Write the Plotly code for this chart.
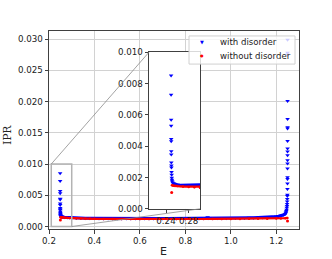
import plotly.graph_objects as go

# ---------------- data ----------------
# "with disorder": localized states at the lower band edge (E ~ 0.25)
blue_left_E = [0.2490, 0.2490, 0.2491, 0.2491, 0.2492, 0.2492, 0.2493, 0.2493,
               0.2494, 0.2495, 0.2496, 0.2498, 0.2500, 0.2502, 0.2505, 0.2510, 0.2515]
blue_left_ipr = [0.00851, 0.00728, 0.00569, 0.00531, 0.00446, 0.00431, 0.00367, 0.00346,
                 0.00295, 0.00276, 0.00263, 0.00235, 0.00218, 0.00199, 0.00186, 0.00176, 0.00168]

# "with disorder": localized states at the upper band edge (E ~ 1.25)
blue_right_E = [1.2497, 1.2497, 1.2497, 1.2497, 1.2497, 1.2497, 1.2496, 1.2496,
                1.2496, 1.2496, 1.2495, 1.2495, 1.2495, 1.2494, 1.2494, 1.2493,
                1.2492, 1.2490, 1.2488, 1.2486, 1.2483, 1.2480, 1.2476, 1.2470,
                1.2462, 1.2452, 1.2440, 1.2425]
blue_right_ipr = [0.0299, 0.0278, 0.0275, 0.0201, 0.0172, 0.0159, 0.0157, 0.0137,
                  0.0125, 0.0120, 0.0114, 0.0106, 0.0101, 0.0093, 0.0079, 0.0076,
                  0.0069, 0.0060, 0.0051, 0.0049, 0.0044, 0.0040, 0.0036, 0.0033,
                  0.0030, 0.0027, 0.0025, 0.0023]

# "with disorder": extended states through the band
blue_band_E = [0.253, 0.256, 0.260, 0.265, 0.270, 0.280, 0.290, 0.300, 0.320, 0.340,
               0.360, 0.380, 0.400, 0.420, 0.440, 0.460, 0.480, 0.500, 0.520, 0.540,
               0.560, 0.580, 0.600, 0.620, 0.640, 0.660, 0.680, 0.700, 0.720, 0.740,
               0.760, 0.780, 0.800, 0.820, 0.840, 0.860, 0.880, 0.900, 0.920, 0.940,
               0.960, 0.980, 1.000, 1.020, 1.040, 1.060, 1.080, 1.100, 1.120, 1.140,
               1.160, 1.180, 1.200, 1.210, 1.220, 1.230, 1.238, 1.242]
blue_band_ipr = [0.00162, 0.00157, 0.00154, 0.00151, 0.00149, 0.00146, 0.00143, 0.00140,
                 0.00137, 0.00135, 0.00133, 0.00132, 0.00131, 0.00130, 0.00129, 0.00129,
                 0.00128, 0.00128, 0.00127, 0.00127, 0.00127, 0.00127, 0.00127, 0.00127,
                 0.00127, 0.00127, 0.00127, 0.00127, 0.00128, 0.00128, 0.00128, 0.00129,
                 0.00129, 0.00129, 0.00130, 0.00130, 0.00131, 0.00131, 0.00132, 0.00132,
                 0.00133, 0.00134, 0.00135, 0.00136, 0.00137, 0.00138, 0.00140, 0.00141,
                 0.00143, 0.00146, 0.00149, 0.00153, 0.00159, 0.00164, 0.00171, 0.00183,
                 0.00198, 0.00212]
# isolated state inside the band
blue_mid_E = [0.898]
blue_mid_ipr = [0.00150]

# "without disorder"
red_band_E = [0.2505, 0.253, 0.256, 0.260, 0.270, 0.280, 0.290, 0.300, 0.320, 0.340,
              0.360, 0.380, 0.400, 0.440, 0.480, 0.520, 0.560, 0.600, 0.640, 0.680,
              0.720, 0.760, 0.800, 0.840, 0.880, 0.920, 0.960, 1.000, 1.040, 1.080,
              1.120, 1.160, 1.200, 1.220, 1.240, 1.249]
red_band_ipr = [0.00150, 0.00148, 0.00146, 0.00145, 0.00142, 0.00139, 0.00137, 0.00135,
                0.00131, 0.00128, 0.00126, 0.00124, 0.00123, 0.00121, 0.00120, 0.00120,
                0.00120, 0.00120, 0.00120, 0.00120, 0.00120, 0.00120, 0.00120, 0.00120,
                0.00120, 0.00121, 0.00121, 0.00121, 0.00122, 0.00123, 0.00124, 0.00126,
                0.00128, 0.00130, 0.00133, 0.00138]
red_edge_E = [0.2500, 1.2495]
red_edge_ipr = [0.00104, 0.00090]

series_names = ["with disorder", "without disorder"]

# axes limits / ticks
main_x_range = [0.2, 1.3]
main_y_range = [-0.0004, 0.0313]
zoom_x_range = [0.21, 0.30]
zoom_y_range = [0.0, 0.010]
main_x_ticks = [0.2, 0.4, 0.6, 0.8, 1.0, 1.2]
main_y_ticks = [0.0, 0.005, 0.010, 0.015, 0.020, 0.025, 0.030]
zoom_x_ticks = [0.24, 0.28]
zoom_y_ticks = [0.0, 0.002, 0.004, 0.006, 0.008, 0.010]

# ---------------- figure ----------------
BLUE = "#0000ff"
RED = "#ff0000"
FONT = "DejaVu Sans"
INSET_DOM_X = [0.400, 0.604]
INSET_DOM_Y = [0.102, 0.893]

fig = go.Figure()

for xa, ya in (("x", "y"), ("x2", "y2")):
    fig.add_trace(go.Scatter(x=blue_band_E, y=blue_band_ipr, mode="lines+markers",
                             line=dict(color=BLUE, width=3),
                             marker=dict(symbol="triangle-down", size=4, color=BLUE),
                             xaxis=xa, yaxis=ya, name=series_names[0], hoverinfo="skip"))
    fig.add_trace(go.Scatter(x=blue_left_E, y=blue_left_ipr, mode="markers",
                             marker=dict(symbol="triangle-down", size=4, color=BLUE),
                             xaxis=xa, yaxis=ya, name=series_names[0]))
    fig.add_trace(go.Scatter(x=blue_right_E, y=blue_right_ipr, mode="markers",
                             marker=dict(symbol="triangle-down", size=4, color=BLUE),
                             xaxis=xa, yaxis=ya, name=series_names[0]))
    fig.add_trace(go.Scatter(x=blue_mid_E, y=blue_mid_ipr, mode="markers",
                             marker=dict(symbol="triangle-down", size=4, color=BLUE),
                             xaxis=xa, yaxis=ya, name=series_names[0]))
    fig.add_trace(go.Scatter(x=red_band_E, y=red_band_ipr, mode="lines+markers",
                             line=dict(color=RED, width=2.2),
                             marker=dict(symbol="circle", size=2.5, color=RED),
                             xaxis=xa, yaxis=ya, name=series_names[1], hoverinfo="skip"))
    fig.add_trace(go.Scatter(x=red_edge_E, y=red_edge_ipr, mode="markers",
                             marker=dict(symbol="circle", size=3, color=RED),
                             xaxis=xa, yaxis=ya, name=series_names[1]))


def to_paper_x(v):
    return (v - main_x_range[0]) / (main_x_range[1] - main_x_range[0])


def to_paper_y(v):
    return (v - main_y_range[0]) / (main_y_range[1] - main_y_range[0])


# legend box placement (paper coordinates of the main plotting area)
LEG_X0, LEG_X1 = 0.560, 0.984
LEG_Y0, LEG_Y1 = 0.833, 0.975
LEG_ROWS = [0.942, 0.876]
LEG_MARK_X = 0.612
LEG_TEXT_X = 0.676

shapes = [
    # opaque background of the inset (drawn inside the inset subplot layer)
    dict(type="rect", xref="x2", yref="y2", x0=zoom_x_range[0], x1=zoom_x_range[1],
         y0=zoom_y_range[0], y1=zoom_y_range[1], fillcolor="white",
         line=dict(width=0), layer="below"),
    # zoom rectangle on main axes
    dict(type="rect", xref="x", yref="y", x0=zoom_x_range[0], x1=zoom_x_range[1],
         y0=zoom_y_range[0], y1=zoom_y_range[1], fillcolor="rgba(0,0,0,0)",
         line=dict(color="#b3b3b3", width=1.5), layer="above"),
    # connector lines
    dict(type="line", xref="paper", yref="paper",
         x0=to_paper_x(zoom_x_range[0]), y0=to_paper_y(zoom_y_range[1]),
         x1=INSET_DOM_X[0], y1=INSET_DOM_Y[1], line=dict(color="#8c8c8c", width=0.8),
         layer="above"),
    dict(type="line", xref="paper", yref="paper",
         x0=to_paper_x(zoom_x_range[1]), y0=to_paper_y(zoom_y_range[0]),
         x1=INSET_DOM_X[1], y1=INSET_DOM_Y[0], line=dict(color="#8c8c8c", width=0.8),
         layer="above"),
    # legend frame
    dict(type="rect", xref="paper", yref="paper", x0=LEG_X0, x1=LEG_X1,
         y0=LEG_Y0, y1=LEG_Y1, fillcolor="rgba(255,255,255,0.8)",
         line=dict(color="#d0d0d0", width=1), layer="above"),
]

annotations = [
    dict(text="E", xref="paper", yref="paper", x=0.456, y=-0.113,
         xanchor="center", yanchor="middle", showarrow=False,
         font=dict(family=FONT, size=11, color="#222")),
    dict(text="IPR", xref="paper", yref="paper", x=-0.168, y=0.476,
         xanchor="center", yanchor="middle", textangle=-90, showarrow=False,
         font=dict(family="DejaVu Serif", size=10.5, color="#222")),
]
# legend entries
for name, glyph, color, gsize, row in ((series_names[0], "▼", BLUE, 5, LEG_ROWS[0]),
                                        (series_names[1], "●", RED, 4, LEG_ROWS[1])):
    annotations.append(dict(text=glyph, xref="paper", yref="paper", x=LEG_MARK_X, y=row,
                            xanchor="center", yanchor="middle", showarrow=False,
                            font=dict(family=FONT, size=gsize, color=color)))
    annotations.append(dict(text=name, xref="paper", yref="paper", x=LEG_TEXT_X, y=row,
                            xanchor="left", yanchor="middle", showarrow=False,
                            font=dict(family=FONT, size=8.6, color="#222")))

axis_common = dict(showline=True, mirror=True, linecolor="#404040", linewidth=1,
                   ticks="outside", ticklen=3.5, tickwidth=0.8, tickcolor="#404040",
                   zeroline=False, automargin=False,
                   tickfont=dict(family=FONT, size=8.7, color="#222"))

fig.update_layout(
    width=332, height=259,
    margin=dict(l=49, r=33, t=31, b=30, autoexpand=False),
    paper_bgcolor="white", plot_bgcolor="white",
    xaxis=dict(domain=[0, 1], range=main_x_range, tickvals=main_x_ticks,
               tickformat=".1f", showgrid=True, gridcolor="#d2d2d2", gridwidth=1,
               **axis_common),
    yaxis=dict(domain=[0, 1], range=main_y_range, tickvals=main_y_ticks,
               tickformat=".3f", showgrid=True, gridcolor="#d2d2d2", gridwidth=1,
               **axis_common),
    xaxis2=dict(domain=INSET_DOM_X, anchor="y2", range=zoom_x_range,
                tickvals=zoom_x_ticks, tickformat=".2f", showgrid=False, **axis_common),
    yaxis2=dict(domain=INSET_DOM_Y, anchor="x2", range=zoom_y_range,
                tickvals=zoom_y_ticks, tickformat=".3f", showgrid=False, **axis_common),
    shapes=shapes,
    annotations=annotations,
    showlegend=False,
)

fig.write_html("out.html", config={"displayModeBar": False},
               post_script="document.body.style.margin='0';document.body.style.padding='0';")
